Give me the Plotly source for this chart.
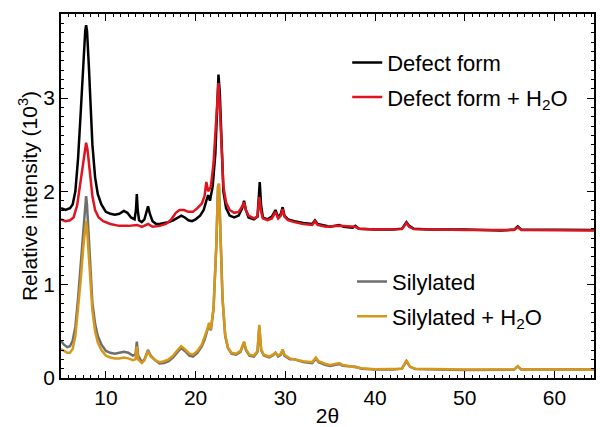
import plotly.graph_objects as go

# ---- data (2theta, relative intensity in 10^3) ----
defect_x = [5.0, 5.5, 6.0, 6.3, 6.6, 6.9, 7.2, 7.5, 7.7, 7.8, 7.9, 8.1, 8.3, 8.5, 8.8, 9.1, 9.5, 10.0,
            10.5, 11.0, 11.5, 12.0, 12.4, 12.8, 13.2, 13.35, 13.45, 13.55, 13.7, 14.0, 14.3, 14.55, 14.7,
            14.9, 15.2, 15.6, 16.0, 16.5, 17.0, 17.5, 18.0, 18.4, 18.8, 19.2, 19.6, 20.0, 20.5, 20.9,
            21.2, 21.4, 21.6, 21.9, 22.2, 22.4, 22.55, 22.7, 22.9, 23.1, 23.4, 23.8, 24.3, 24.8, 25.2,
            25.4, 25.6, 25.9, 26.5, 26.9, 27.05, 27.15, 27.3, 27.5, 28.0, 28.5, 28.9, 29.2, 29.5, 29.7,
            29.9, 30.3, 31.0, 32.0, 33.0, 33.3, 33.6, 34.5, 35.0, 36.0, 36.5, 37.5, 37.8, 38.2, 40.0,
            42.0, 43.0, 43.5, 43.8, 44.3, 46.0, 50.0, 54.0, 55.5, 55.9, 56.3, 60.0, 64.4]
defect_y = [1.82, 1.80, 1.82, 1.86, 2.00, 2.35, 2.85, 3.40, 3.72, 3.78, 3.72, 3.35, 2.90, 2.50, 2.15, 1.97,
            1.86, 1.78, 1.76, 1.75, 1.76, 1.79, 1.77, 1.72, 1.70, 1.80, 1.97, 1.80, 1.69, 1.67, 1.70, 1.80,
            1.84, 1.76, 1.68, 1.65, 1.65, 1.66, 1.67, 1.69, 1.72, 1.74, 1.72, 1.69, 1.68, 1.70, 1.74, 1.80,
            1.90, 1.96, 1.90, 2.05, 2.40, 2.90, 3.25, 3.05, 2.40, 2.00, 1.82, 1.74, 1.72, 1.74, 1.82,
            1.90, 1.80, 1.72, 1.70, 1.73, 1.95, 2.10, 1.85, 1.72, 1.70, 1.73, 1.80, 1.72, 1.76, 1.83,
            1.74, 1.70, 1.68, 1.66, 1.65, 1.69, 1.65, 1.63, 1.62, 1.64, 1.62, 1.61, 1.63, 1.60, 1.59,
            1.59, 1.60, 1.67, 1.63, 1.60, 1.59, 1.59, 1.58, 1.59, 1.625, 1.59, 1.585, 1.585]

defect_h2o_x = [5.0, 5.5, 6.0, 6.4, 6.8, 7.1, 7.4, 7.7, 7.8, 7.95, 8.2, 8.5, 8.8, 9.2, 9.7, 10.5, 11.5,
                12.5, 13.5, 14.0, 14.7, 15.2, 16.0, 16.7, 17.3, 17.8, 18.2, 18.7, 19.2, 19.7, 20.2, 20.7,
                21.0, 21.2, 21.4, 21.7, 22.0, 22.3, 22.55, 22.7, 22.9, 23.1, 23.4, 23.8, 24.3, 24.8, 25.2,
                25.4, 25.6, 25.9, 26.5, 26.9, 27.1, 27.3, 27.5, 28.0, 28.5, 28.9, 29.2, 29.5, 29.7, 29.9,
                30.3, 31.0, 32.0, 33.0, 33.3, 33.6, 34.5, 36.0, 37.8, 38.2, 40.0, 43.0, 43.5, 43.8, 44.3,
                50.0, 55.5, 55.9, 56.3, 64.4]
defect_h2o_y = [1.70, 1.68, 1.69, 1.72, 1.85, 2.05, 2.30, 2.48, 2.52, 2.45, 2.20, 1.95, 1.80, 1.72, 1.68,
                1.65, 1.63, 1.63, 1.64, 1.62, 1.65, 1.62, 1.63, 1.65, 1.70, 1.77, 1.80, 1.80, 1.78, 1.78,
                1.82, 1.87, 1.95, 2.10, 2.00, 2.05, 2.30, 2.75, 3.16, 2.90, 2.40, 2.05, 1.88, 1.80, 1.77,
                1.78, 1.84, 1.88, 1.80, 1.74, 1.71, 1.73, 1.94, 1.78, 1.71, 1.69, 1.71, 1.78, 1.71, 1.74,
                1.81, 1.73, 1.69, 1.67, 1.65, 1.64, 1.68, 1.64, 1.62, 1.63, 1.62, 1.60, 1.59, 1.595, 1.66,
                1.62, 1.595, 1.585, 1.585, 1.615, 1.585, 1.58]

sil_x = [5.0, 5.3, 5.7, 6.0, 6.3, 6.6, 6.9, 7.2, 7.5, 7.7, 7.8, 7.9, 8.1, 8.3, 8.5, 8.8, 9.1, 9.5, 10.0,
         10.5, 11.0, 11.5, 12.0, 12.5, 13.0, 13.3, 13.45, 13.6, 14.0, 14.3, 14.7, 15.0, 15.5, 16.0, 16.5,
         17.0, 17.5, 18.0, 18.4, 18.8, 19.3, 19.7, 20.2, 20.7, 21.0, 21.3, 21.5, 21.7, 22.0, 22.3, 22.5,
         22.6, 22.75, 23.0, 23.3, 23.6, 24.0, 24.5, 25.0, 25.4, 25.6, 26.0, 26.5, 26.9, 27.1, 27.3, 27.6,
         28.2, 28.6, 28.9, 29.2, 29.5, 29.7, 29.9, 30.5, 31.0, 32.0, 33.0, 33.4, 33.7, 34.5, 35.0, 36.0,
         36.4, 37.8, 38.5, 40.0, 42.0, 43.0, 43.5, 43.9, 44.5, 47.0, 50.0, 55.5, 55.9, 56.3, 60.0, 64.4]
sil_y = [0.40, 0.36, 0.33, 0.34, 0.40, 0.55, 0.85, 1.25, 1.65, 1.90, 1.95, 1.85, 1.45, 1.05, 0.80, 0.58,
         0.45, 0.36, 0.29, 0.27, 0.26, 0.27, 0.28, 0.27, 0.24, 0.25, 0.39, 0.24, 0.17, 0.20, 0.30, 0.24,
         0.19, 0.155, 0.16, 0.18, 0.22, 0.28, 0.32, 0.29, 0.24, 0.23, 0.27, 0.34, 0.41, 0.51, 0.57, 0.51,
         0.74, 1.40, 2.05, 2.08, 1.60, 0.85, 0.45, 0.32, 0.26, 0.25, 0.28, 0.38, 0.30, 0.24, 0.23, 0.28,
         0.55, 0.30, 0.24, 0.22, 0.24, 0.27, 0.23, 0.25, 0.30, 0.24, 0.20, 0.20, 0.17, 0.16, 0.21, 0.17,
         0.14, 0.13, 0.15, 0.13, 0.12, 0.10, 0.09, 0.09, 0.10, 0.18, 0.12, 0.095, 0.09, 0.085, 0.09, 0.125,
         0.09, 0.09, 0.09]

sil_h2o_x = [5.0, 5.3, 5.7, 6.0, 6.3, 6.6, 6.9, 7.2, 7.5, 7.7, 7.8, 7.9, 8.1, 8.3, 8.5, 8.8, 9.1, 9.5,
             10.0, 10.5, 11.0, 11.5, 12.0, 12.5, 13.0, 13.3, 13.45, 13.6, 14.0, 14.3, 14.7, 15.0, 15.5,
             16.0, 16.5, 17.0, 17.5, 18.0, 18.4, 18.8, 19.3, 19.7, 20.2, 20.7, 21.0, 21.3, 21.5, 21.7,
             22.0, 22.3, 22.5, 22.6, 22.75, 23.0, 23.3, 23.6, 24.0, 24.5, 25.0, 25.4, 25.6, 26.0, 26.5,
             26.9, 27.1, 27.3, 27.6, 28.2, 28.6, 28.9, 29.2, 29.5, 29.7, 29.9, 30.5, 31.0, 32.0, 33.0,
             33.4, 33.7, 34.5, 35.0, 36.0, 36.4, 37.8, 38.5, 40.0, 42.0, 43.0, 43.5, 43.9, 44.5, 47.0,
             50.0, 55.5, 55.9, 56.3, 60.0, 64.4]
sil_h2o_y = [0.31, 0.29, 0.27, 0.27, 0.31, 0.45, 0.72, 1.05, 1.42, 1.64, 1.68, 1.60, 1.28, 0.95, 0.72,
             0.50, 0.38, 0.30, 0.24, 0.22, 0.21, 0.21, 0.22, 0.21, 0.19, 0.20, 0.34, 0.20, 0.16, 0.19, 0.29,
             0.23, 0.19, 0.17, 0.18, 0.20, 0.24, 0.30, 0.34, 0.31, 0.26, 0.25, 0.29, 0.36, 0.43, 0.52, 0.59,
             0.52, 0.75, 1.40, 2.05, 2.08, 1.60, 0.86, 0.46, 0.33, 0.27, 0.26, 0.29, 0.39, 0.31, 0.25, 0.24,
             0.29, 0.57, 0.31, 0.25, 0.23, 0.25, 0.27, 0.24, 0.26, 0.305, 0.25, 0.21, 0.20, 0.18, 0.17,
             0.22, 0.18, 0.15, 0.14, 0.16, 0.14, 0.12, 0.105, 0.095, 0.095, 0.10, 0.19, 0.12, 0.10, 0.095,
             0.09, 0.09, 0.127, 0.09, 0.09, 0.09]

series = [
    ("Defect form", defect_x, defect_y, "#000000", "legend"),
    ("Defect form + H<sub>2</sub>O", defect_h2o_x, defect_h2o_y, "#e0141e", "legend"),
    ("Silylated", sil_x, sil_y, "#6e6e6e", "legend2"),
    ("Silylated + H<sub>2</sub>O", sil_h2o_x, sil_h2o_y, "#d6981a", "legend2"),
]

FONT = "Liberation Sans, Arial, Helvetica, sans-serif"

fig = go.Figure()
for i, (name, xs, ys, col, leg) in enumerate(series):
    fig.add_trace(go.Scatter(x=xs, y=ys, mode="lines", name=name, legend=leg,
                             legendgroup=str(i),
                             line=dict(color=col, width=2.5)))

axis_common = dict(showline=True, linecolor="black", linewidth=1.5, mirror="ticks",
                   ticks="inside", ticklen=7, tickwidth=1.3, tickcolor="black",
                   showgrid=False, zeroline=False, automargin=False,
                   tickfont=dict(family=FONT, size=21, color="black"))

fig.update_layout(
    width=600, height=427,
    margin=dict(l=61, r=6, t=14, b=49),
    plot_bgcolor="white", paper_bgcolor="white",
    font=dict(family=FONT, size=21, color="black"),
    xaxis=dict(range=[5, 64.4], dtick=10, tick0=0,
               minor=dict(dtick=10/12, ticklen=3.5, ticks="inside", tickcolor="black", tickwidth=1.1),
               title=dict(text="2θ", font=dict(family=FONT, size=21), standoff=2),
               **axis_common),
    yaxis=dict(range=[0, 3.9], dtick=1, tick0=0,
               minor=dict(dtick=0.1, ticklen=3.5, ticks="inside", tickcolor="black", tickwidth=1.1),
               title=dict(text="Relative intensity (10<sup>3</sup>)", font=dict(family=FONT, size=21),
                          standoff=0),
               **axis_common),
    legend=dict(x=0.537, y=0.924, xanchor="left", yanchor="top", bgcolor="rgba(0,0,0,0)",
                font=dict(family=FONT, size=22), tracegroupgap=3, traceorder="grouped"),
    legend2=dict(x=0.546, y=0.322, xanchor="left", yanchor="top", bgcolor="rgba(0,0,0,0)",
                 font=dict(family=FONT, size=22), tracegroupgap=3, traceorder="grouped"),
)

fig.write_html("out.html")
